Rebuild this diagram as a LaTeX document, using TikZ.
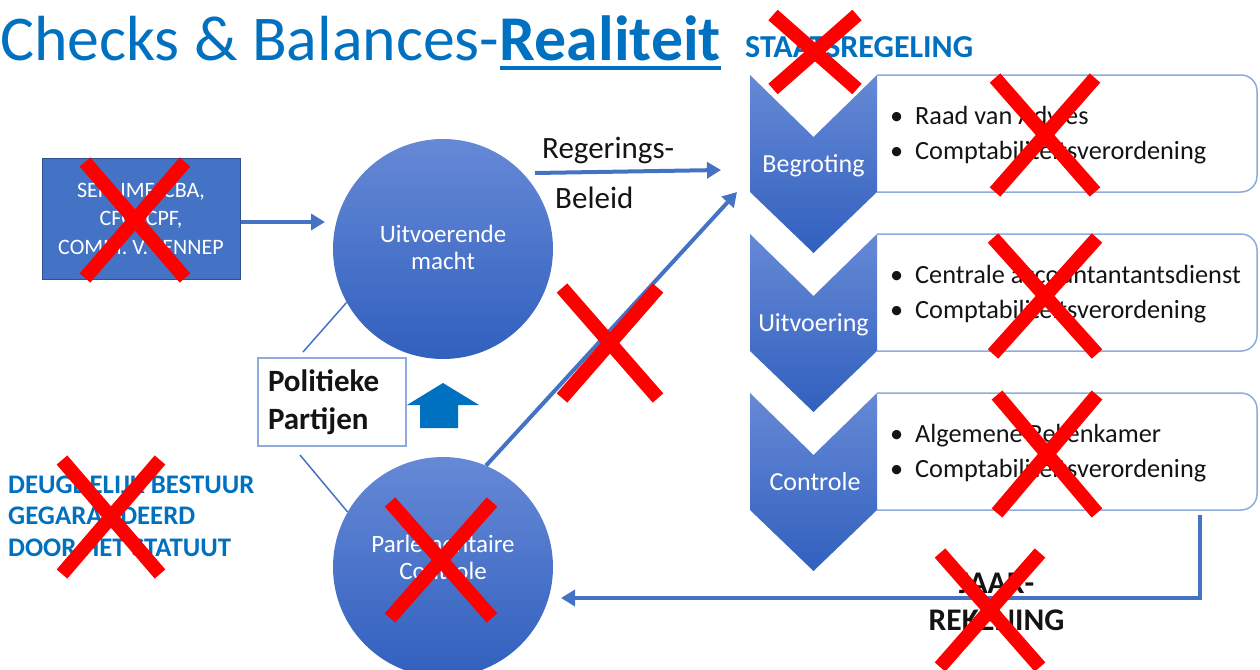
\documentclass[tikz,border=0pt]{standalone}
\usepackage{fontspec}
\setmainfont{Carlito}
\usetikzlibrary{arrows.meta}
\definecolor{tblue}{RGB}{0,112,192}
\definecolor{sblue}{RGB}{68,114,196}
\definecolor{gtop}{RGB}{102,137,214}
\definecolor{gbot}{RGB}{49,96,190}
\definecolor{lblue}{RGB}{143,170,220}
\definecolor{dkblue}{RGB}{47,82,143}
\definecolor{txt}{RGB}{20,20,20}
\definecolor{xred}{RGB}{255,0,0}
\newcommand{\myfs}[2]{\fontsize{#1}{#2}\selectfont}
\newcommand{\redx}[4]{\draw[xbar] (#1-#3,#2-#4) -- (#1+#3,#2+#4) (#1+#3,#2-#4) -- (#1-#3,#2+#4);}
\newcommand{\chev}[1]{\shade[top color=gtop,bottom color=gbot] (750,#1) -- (813.5,#1+62) -- (877,#1) -- (877,#1+117) -- (813.5,#1+178) -- (750,#1+117) -- cycle;}
\newcommand{\rbox}[1]{\draw[lblue, line width=1.5pt, fill=white, rounded corners=16pt] (877,#1) -- (1257,#1) -- (1257,#1+117) -- (877,#1+117);}
\newcommand{\bline}[3]{\node[bul] (#1) at (890,#2) {\makebox[25pt][l]{•}#3};}
\begin{document}
\begin{tikzpicture}[x=1pt,y=-1pt,
  xbar/.style={line width=14pt, draw=xred},
  conn/.style={draw=sblue, line width=4pt, -{Triangle[length=14pt,width=16pt]}},
  link/.style={draw=sblue, line width=1.5pt},
  circ/.style={circle, minimum size=220pt, inner sep=0pt, top color=gtop, bottom color=gbot},
  ctext/.style={text=white, align=center, inner sep=0pt, font=\myfs{25}{27}},
  chevtext/.style={text=white, font=\myfs{26}{30}, anchor=base, inner sep=0pt},
  bul/.style={text=txt, font=\myfs{26.3}{30}, anchor=base west, inner sep=0pt}]
\useasboundingbox (0,0) rectangle (1260,669);
% title
\node[anchor=base west, inner sep=0pt, text=tblue, font=\myfs{63.8}{70}] (t1) at (0,60) {Checks \& Balances-};
\node[anchor=base west, inner sep=0pt, text=tblue, font=\bfseries\myfs{63.8}{70}] (t2) at (t1.base east) {Realiteit};
\draw[tblue, line width=3pt] ([yshift=-8pt]t2.base west) -- ([yshift=-8pt]t2.base east);
\node[anchor=base west, inner sep=0pt, text=tblue, font=\bfseries\myfs{32}{34}] (st) at (745,57) {STAATSREGELING};
% left box
\node[fill=sblue, draw=dkblue, line width=1pt, minimum width=198pt, minimum height=121pt, text=white, align=center, font=\myfs{22}{28.5}] (ser) at (141,218.5) {SER, IMF, CBA,\\CFO, CPF,\\COMM. V. LENNEP};
% circles
\node[circ] (uit) at (443,249) {};
\node[ctext] (uitt) at (443,247) {Uitvoerende\\macht};
\node[circ] (pc) at (443,567) {};
\node[ctext] (pct) at (443,557) {Parlementaire\\Controle};
% politieke partijen
\node[draw=lblue, line width=1.5pt, fill=white, text width=128pt, inner xsep=10pt, inner ysep=0pt, minimum height=88pt, align=left, font=\bfseries\myfs{31}{38}, text=txt] (pp) at (332,402) {Politieke\\Partijen};
\fill[tblue] (420,428) -- (458,428) -- (458,405) -- (479,405) -- (443,383) -- (407,405) -- (420,405) -- cycle;
% deugdelijk
\node[anchor=west, inner sep=0pt, align=left, text=tblue, font=\bfseries\myfs{26.8}{31.5}] (dg) at (8,516) {DEUGDELIJK BESTUUR\\GEGARANDEERD\\DOOR HET STATUUT};
% right column
\rbox{75}\rbox{234}\rbox{393}
\chev{75}\chev{234}\chev{393}
\node[chevtext] (cb) at (813.5,172) {Begroting};
\node[chevtext] (cu) at (813.5,331) {Uitvoering};
\node[chevtext] (cc) at (815,490) {Controle};
\bline{b1a}{124}{Raad van Advies}
\bline{b1b}{159}{Comptabiliteitsverordening}
\bline{b2a}{283}{Centrale accountantantsdienst}
\bline{b2b}{318}{Comptabiliteitsverordening}
\bline{b3a}{442}{Algemene Rekenkamer}
\bline{b3b}{477}{Comptabiliteitsverordening}
% regerings
\node[anchor=base west, inner sep=0pt, text=txt, font=\myfs{31}{36}] (rg) at (542,158) {Regerings-};
\node[anchor=base west, inner sep=0pt, text=txt, font=\myfs{31}{36}] (bl) at (555,208) {Beleid};
% connectors
\coordinate (a1) at (325,222);
\coordinate (r0) at (535,173);
\coordinate (r1) at (721,170);
\coordinate (d1) at (737,192);
\coordinate (l1) at (303,352);
\coordinate (l2) at (300,455);
\coordinate (j0) at (1200,515);
\coordinate (jc) at (1200,598);
\coordinate (je) at (561,598);
\draw[conn] (ser.east |- a1) -- (a1);
\draw[conn] (r0) -- (r1);
\draw[conn] (pc.67) -- (d1);
\draw[link] (uit.209) -- (l1);
\draw[link] (pc.150) -- (l2);
\draw[conn] (j0) -- (jc) -- (je);
\node[align=center, inner sep=0pt, font=\bfseries\myfs{31.5}{37}, text=txt] (jr) at (996.5,601.5) {JAAR-\\REKENING};
% red crosses
\redx{815}{52}{42}{37}
\redx{1045}{135}{50}{57}
\redx{1045}{296}{52}{58}
\redx{1047}{454}{50}{59}
\redx{990}{610}{50}{57}
\redx{135}{220}{50}{58}
\redx{111}{517}{49}{57}
\redx{610}{343}{48}{55}
\redx{441}{560}{51}{58}
\end{tikzpicture}
\end{document}
